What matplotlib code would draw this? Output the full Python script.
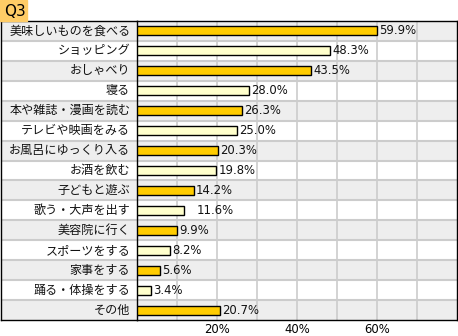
import matplotlib
matplotlib.use("Agg")
import matplotlib.pyplot as plt
from matplotlib.patches import Rectangle

plt.rcParams['font.family'] = ['Noto Sans CJK JP', 'DejaVu Sans']

categories = [
    "美味しいものを食べる", "ショッピング", "おしゃべり", "寝る",
    "本や雑誌・漫画を読む", "テレビや映画をみる", "お風呂にゆっくり入る",
    "お酒を飲む", "子どもと遊ぶ", "歌う・大声を出す", "美容院に行く",
    "スポーツをする", "家事をする", "踊る・体操をする", "その他",
]
values = [59.9, 48.3, 43.5, 28.0, 26.3, 25.0, 20.3, 19.8, 14.2, 11.6,
          9.9, 8.2, 5.6, 3.4, 20.7]
tick_values = [20, 40, 60]
tick_labels = ["20%", "40%", "60%"]
title = "Q3"

W, H = 458, 336
fig = plt.figure(figsize=(W / 100, H / 100), dpi=100)

top_px, bot_px = 21, 320
left_px, split_px, right_px = 0.5, 137.3, 457.0

def px_axes(x0, x1):
    return fig.add_axes([x0 / W, (H - bot_px) / H, (x1 - x0) / W, (bot_px - top_px) / H])

n = len(categories)
grey_row, white_row = "#eeeeee", "#ffffff"
sep_col = "#cccccc"
gold, pale = "#ffcc00", "#ffffcc"

# Label column
ax_lab = px_axes(left_px, split_px)
ax_lab.set_xlim(0, 1)
ax_lab.set_ylim(n - 0.5, -0.5)
for i, name in enumerate(categories):
    ax_lab.axhspan(i - 0.5, i + 0.5, color=grey_row if i % 2 == 0 else white_row, lw=0, zorder=0)
    ax_lab.text(1 - 7 / (split_px - left_px), i, name, ha="right", va="center",
                fontsize=8.7, color="#111111")
for i in range(1, n):
    ax_lab.axhline(i - 0.5, color=sep_col, lw=1.5, zorder=1)
ax_lab.set_xticks([])
ax_lab.set_yticks([])
for s in ax_lab.spines.values():
    s.set_linewidth(1.0)
    s.set_color("black")
ax_lab.spines["right"].set_visible(False)

# Bar area
ax = px_axes(split_px, right_px)
ax.set_xlim(0, 80)
ax.set_ylim(n - 0.5, -0.5)
for i in range(n):
    ax.axhspan(i - 0.5, i + 0.5, color=grey_row if i % 2 == 0 else white_row, lw=0, zorder=0)
for i in range(1, n):
    ax.axhline(i - 0.5, color=sep_col, lw=1.5, zorder=1)
for gx in range(10, 80, 10):
    ax.axvline(gx, color=sep_col, lw=1.2, zorder=1)

colors = [gold if i % 2 == 0 else pale for i in range(n)]
ax.barh(range(n), values, height=0.45, color=colors, edgecolor="black",
        linewidth=1.0, zorder=3)
for i, v in enumerate(values):
    gap = 3.2 if v == 11.6 else 0.5
    ax.text(v + gap, i, f"{v:.1f}%", ha="left", va="center", fontsize=8.4,
            family=["DejaVu Sans"], color="#111111", zorder=4)

ax.set_yticks([])
ax.set_xticks(tick_values)
ax.set_xticklabels(tick_labels, fontsize=8.4, family=["DejaVu Sans"])
ax.tick_params(axis="x", length=0, pad=2.5)
for s in ax.spines.values():
    s.set_linewidth(1.0)
    s.set_color("black")

# Title tab
fig.patches.append(Rectangle((0, (H - 21) / H), 27 / W, 21 / H,
                             transform=fig.transFigure, color="#ffcc66", zorder=0))
fig.text(4 / W, (H - 11) / H, title, ha="left", va="center", fontsize=11,
         family=["DejaVu Sans"], color="black")

fig.savefig("out.png", dpi=100)
